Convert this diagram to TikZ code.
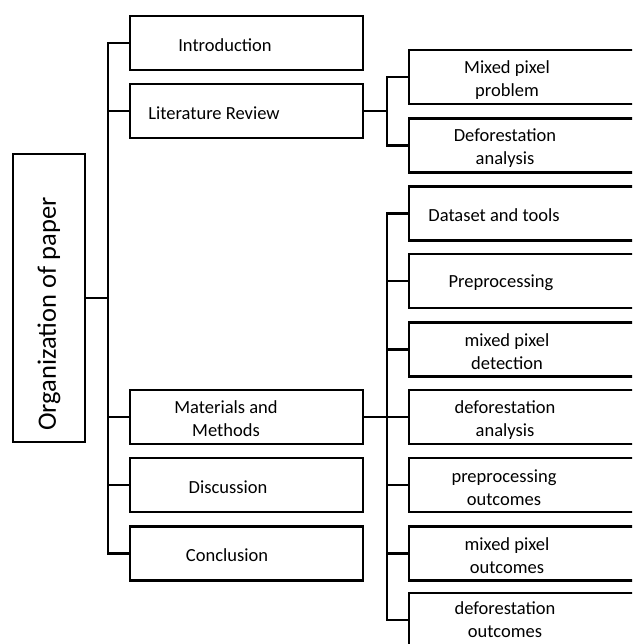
\documentclass[tikz,border=0pt]{standalone}
\usepackage{fontspec}
\setmainfont{Carlito}
\usepackage{tikz}

\tikzset{
  box/.style={draw, line width=2.2pt, minimum width=233pt, minimum height=54pt, inner sep=0pt},
  subbox/.style={box, minimum width=241pt},
  lbl/.style={font=\fontsize{18.5}{23}\selectfont, align=center, inner sep=0pt},
  link/.style={line width=2.2pt}
}

\begin{document}
\begin{tikzpicture}[x=1pt,y=-1pt]
	\clip (0,0) rectangle (632,644);
	% root
	\node[draw, line width=2.2pt, minimum width=72pt, minimum height=288pt] (root) at (49,298) {};
	\node[rotate=90, inner sep=0pt, font=\fontsize{26.5}{30}\selectfont] (roott) at (49,314) {Organization of paper};
	% sections
	\node[box] (intro) at (246.5,43) {};
	\node[lbl] (introt) at (225,45) {Introduction};
	\node[box] (lit) at (246.5,111) {};
	\node[lbl] (litt) at (214,113) {Literature Review};
	\node[box] (mat) at (246.5,417) {};
	\node[lbl] (matt) at (226,419) {Materials and\\ Methods};
	\node[box] (disc) at (246.5,485) {};
	\node[lbl] (disct) at (228,487) {Discussion};
	\node[box] (conc) at (246.5,553.5) {};
	\node[lbl] (conct) at (227,555) {Conclusion};
	% literature review parts
	\node[subbox] (mixp) at (529.5,77) {};
	\node[lbl] (mixpt) at (507,80) {Mixed pixel\\ problem};
	\node[subbox] (defa) at (529.5,145.5) {};
	\node[lbl] (defat) at (505,148) {Deforestation\\ analysis};
	% materials and methods parts
	\node[subbox] (dset) at (529.5,213.5) {};
	\node[lbl] (dsett) at (494,215) {Dataset and tools};
	\node[subbox] (prep) at (529.5,281) {};
	\node[lbl] (prept) at (501,283) {Preprocessing};
	\node[subbox] (mpd) at (529.5,349.5) {};
	\node[lbl] (mpdt) at (507,352) {mixed pixel\\ detection};
	\node[subbox] (dfa) at (529.5,417) {};
	\node[lbl] (dfat) at (505,420) {deforestation\\ analysis};
	\node[subbox] (ppo) at (529.5,485) {};
	\node[lbl] (ppot) at (504,488) {preprocessing\\ outcomes};
	\node[subbox] (mpo) at (529.5,553.5) {};
	\node[lbl] (mpot) at (507,556) {mixed pixel\\ outcomes};
	\node[subbox] (dfo) at (529.5,620) {};
	\node[lbl] (dfot) at (505,620) {deforestation\\ outcomes};
	% connectors
	\coordinate (sp) at (108,298);
	\draw[link] (root.east) -- (sp);
	\draw[link] (sp) |- (intro.west);
	\draw[link] (sp) |- (lit.west);
	\draw[link] (sp) |- (mat.west);
	\draw[link] (sp) |- (disc.west);
	\draw[link] (sp) |- (conc.west);
	\coordinate (lsp) at (387,111);
	\draw[link] (lit.east) -- (lsp);
	\draw[link] (lsp) |- (mixp.west);
	\draw[link] (lsp) |- (defa.west);
	\coordinate (msp) at (387,417);
	\draw[link] (mat.east) -- (msp);
	\draw[link] (msp) |- (dset.west);
	\draw[link] (msp) |- (prep.west);
	\draw[link] (msp) |- (mpd.west);
	\draw[link] (msp) |- (dfa.west);
	\draw[link] (msp) |- (ppo.west);
	\draw[link] (msp) |- (mpo.west);
	\draw[link] (msp) |- (dfo.west);
\end{tikzpicture}
\end{document}
